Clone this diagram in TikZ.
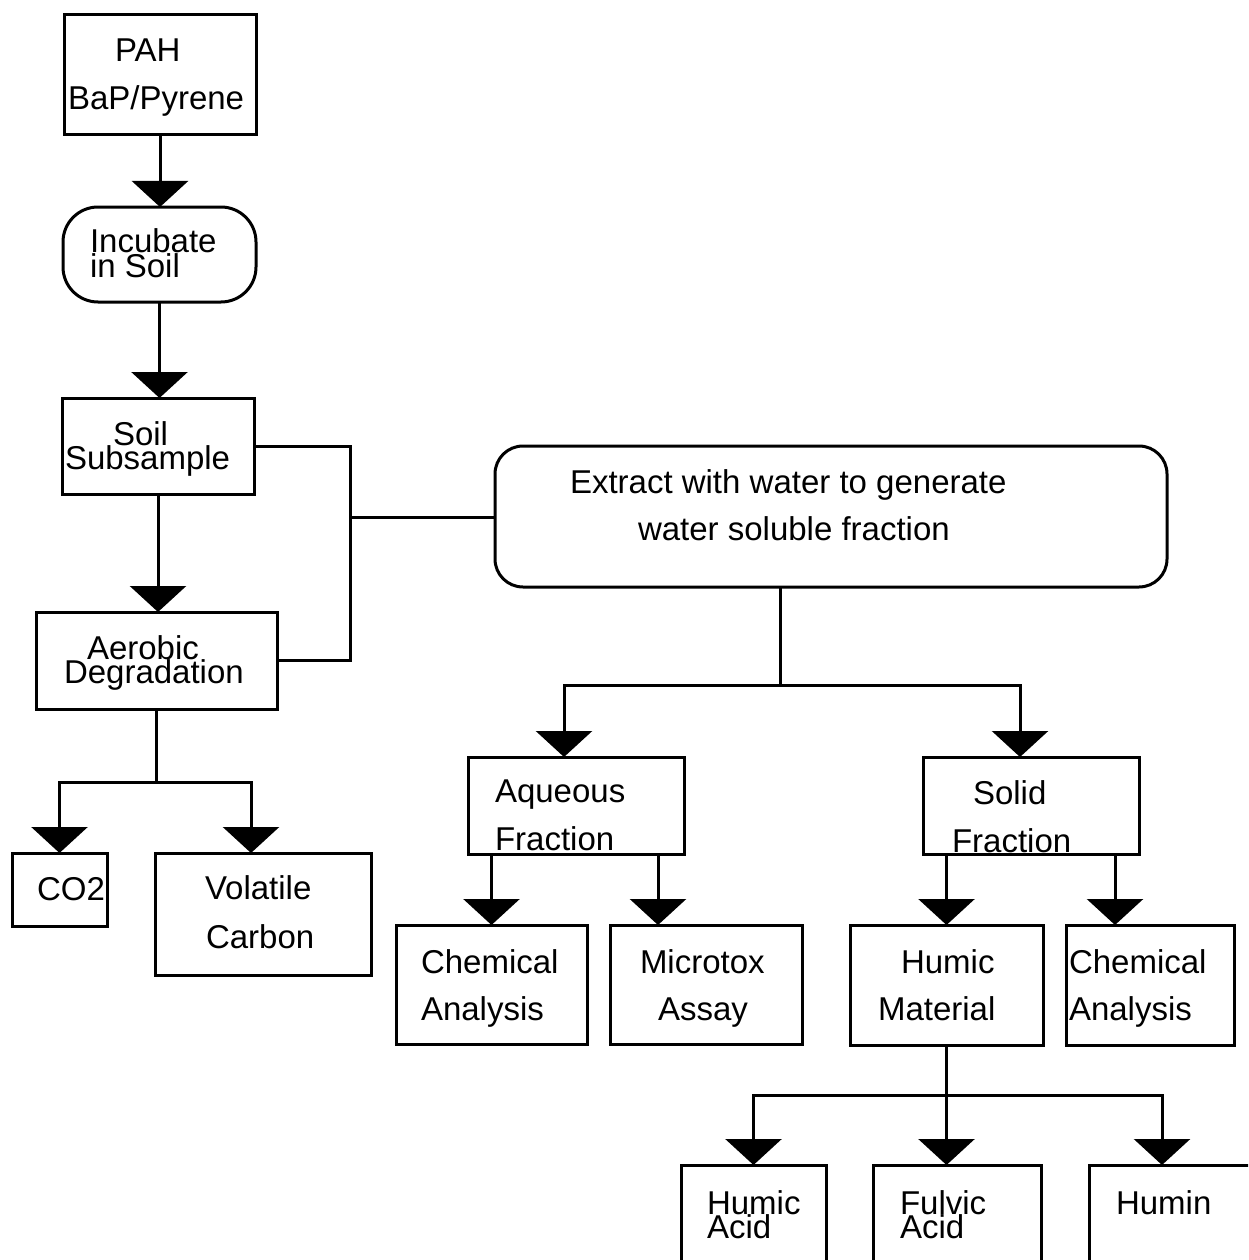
\documentclass[tikz,border=0pt]{standalone}
\usepackage{fontspec}
\setmainfont{Liberation Sans}
\usetikzlibrary{arrows.meta,fit,calc}
\begin{document}
\begin{tikzpicture}[x=1pt,y=-1pt, line width=3pt,
  box/.style={draw, line width=3pt, inner sep=0pt, outer sep=0pt},
  txt/.style={inner sep=0pt, outer sep=0pt, anchor=base west, font=\fontsize{33}{36}\selectfont},
  arr/.style={-{Triangle[width=56pt,length=26pt]}}]
\useasboundingbox (0,0) rectangle (1248,1260);
\fill[white] (0,0) rectangle (1248,1260);
\clip (0,0) rectangle (1248,1260);

% boxes
\node[box, fit={(64,15)(256,135)}] (pah) {};
\node[box, rounded corners=35pt, fit={(63,207)(256,302)}] (inc) {};
\node[box, fit={(62,398)(254,494)}] (soil) {};
\node[box, fit={(36,612)(277,709)}] (aer) {};
\node[box, fit={(12,853)(107,926)}] (co2) {};
\node[box, fit={(155,853)(371,975)}] (vol) {};
\node[box, rounded corners=28pt, fit={(495,446)(1167,587)}] (ext) {};
\node[box, fit={(468,757)(684,854)}] (aq) {};
\node[box, fit={(923,757)(1139,854)}] (sol) {};
\node[box, fit={(396,925)(587,1044)}] (ca1) {};
\node[box, fit={(610,925)(802,1044)}] (mic) {};
\node[box, fit={(850,925)(1043,1045)}] (hm) {};
\node[box, fit={(1066,925)(1234,1045)}] (ca2) {};
\node[box, fit={(681,1165)(826,1280)}] (ha) {};
\node[box, fit={(873,1165)(1041,1280)}] (fa) {};
\node[box, fit={(1089,1165)(1262,1280)}] (hu) {};

% texts
\node[txt] (pahA) at (115,62) {PAH};
\node[txt] (pahB) at (68,110) {BaP/Pyrene};
\node[txt] (incA) at (90,252) {Incubate};
\node[txt] (incB) at (90,277) {in Soil};
\node[txt] (soilA) at (113,445) {Soil};
\node[txt] (soilB) at (65,469) {Subsample};
\node[txt] (aerA) at (87,659) {Aerobic};
\node[txt] (aerB) at (64,683) {Degradation};
\node[txt] (co2A) at (37,900) {CO2};
\node[txt] (volA) at (205,899) {Volatile};
\node[txt] (volB) at (206,948) {Carbon};
\node[txt] (extA) at (570,493) {Extract with water to generate};
\node[txt] (extB) at (638,540) {water soluble fraction};
\node[txt] (aqA) at (495,802) {Aqueous};
\node[txt] (aqB) at (495,850) {Fraction};
\node[txt] (solA) at (973,804) {Solid};
\node[txt] (solB) at (952,852) {Fraction};
\node[txt] (ca1A) at (421,973) {Chemical};
\node[txt] (ca1B) at (421,1020) {Analysis};
\node[txt] (micA) at (640,973) {Microtox};
\node[txt] (micB) at (658,1020) {Assay};
\node[txt] (hmA) at (901,973) {Humic};
\node[txt] (hmB) at (878,1020) {Material};
\node[txt] (ca2A) at (1069,973) {Chemical};
\node[txt] (ca2B) at (1069,1020) {Analysis};
\node[txt] (haA) at (707,1214) {Humic};
\node[txt] (haB) at (707,1238) {Acid};
\node[txt] (faA) at (900,1214) {Fulvic};
\node[txt] (faB) at (900,1238) {Acid};
\node[txt] (huA) at (1116,1214) {Humin};

% connectors
\draw[arr] (pah.south) -- (pah.south |- inc.north);
\draw[arr] (inc.south) -- (inc.south |- soil.north);
\draw[arr] (soil.south) -- (soil.south |- aer.north);

\coordinate (j1) at (350,517);
\draw (soil.east) -| (j1) |- (aer.east);
\draw (j1) -- (j1 -| ext.west);

\coordinate (j2) at (156,782);
\coordinate (volin) at (251,853);
\draw (aer.south -| j2) -- (j2);
\draw[arr] (j2) -| (co2.north);
\draw[arr] (j2) -| (volin);

\coordinate (j3) at (780,685);
\coordinate (aqin) at (564,757);
\coordinate (solin) at (1020,757);
\draw (ext.south -| j3) -- (j3);
\draw[arr] (j3) -| (aqin);
\draw[arr] (j3) -| (solin);

\coordinate (micin) at (658,925);
\coordinate (ca2in) at (1115,925);
\draw[arr] (aq.south -| ca1.north) -- (ca1.north);
\draw[arr] (aq.south -| micin) -- (micin);
\draw[arr] (sol.south -| hm.north) -- (hm.north);
\draw[arr] (sol.south -| ca2in) -- (ca2in);

\coordinate (j4) at (946,1095);
\coordinate (huin) at (1162,1165);
\draw[arr] (hm.south) -- (hm.south |- fa.north);
\draw[arr] (hm.south |- j4) -| (ha.north);
\draw[arr] (hm.south |- j4) -| (huin);
\end{tikzpicture}
\end{document}
